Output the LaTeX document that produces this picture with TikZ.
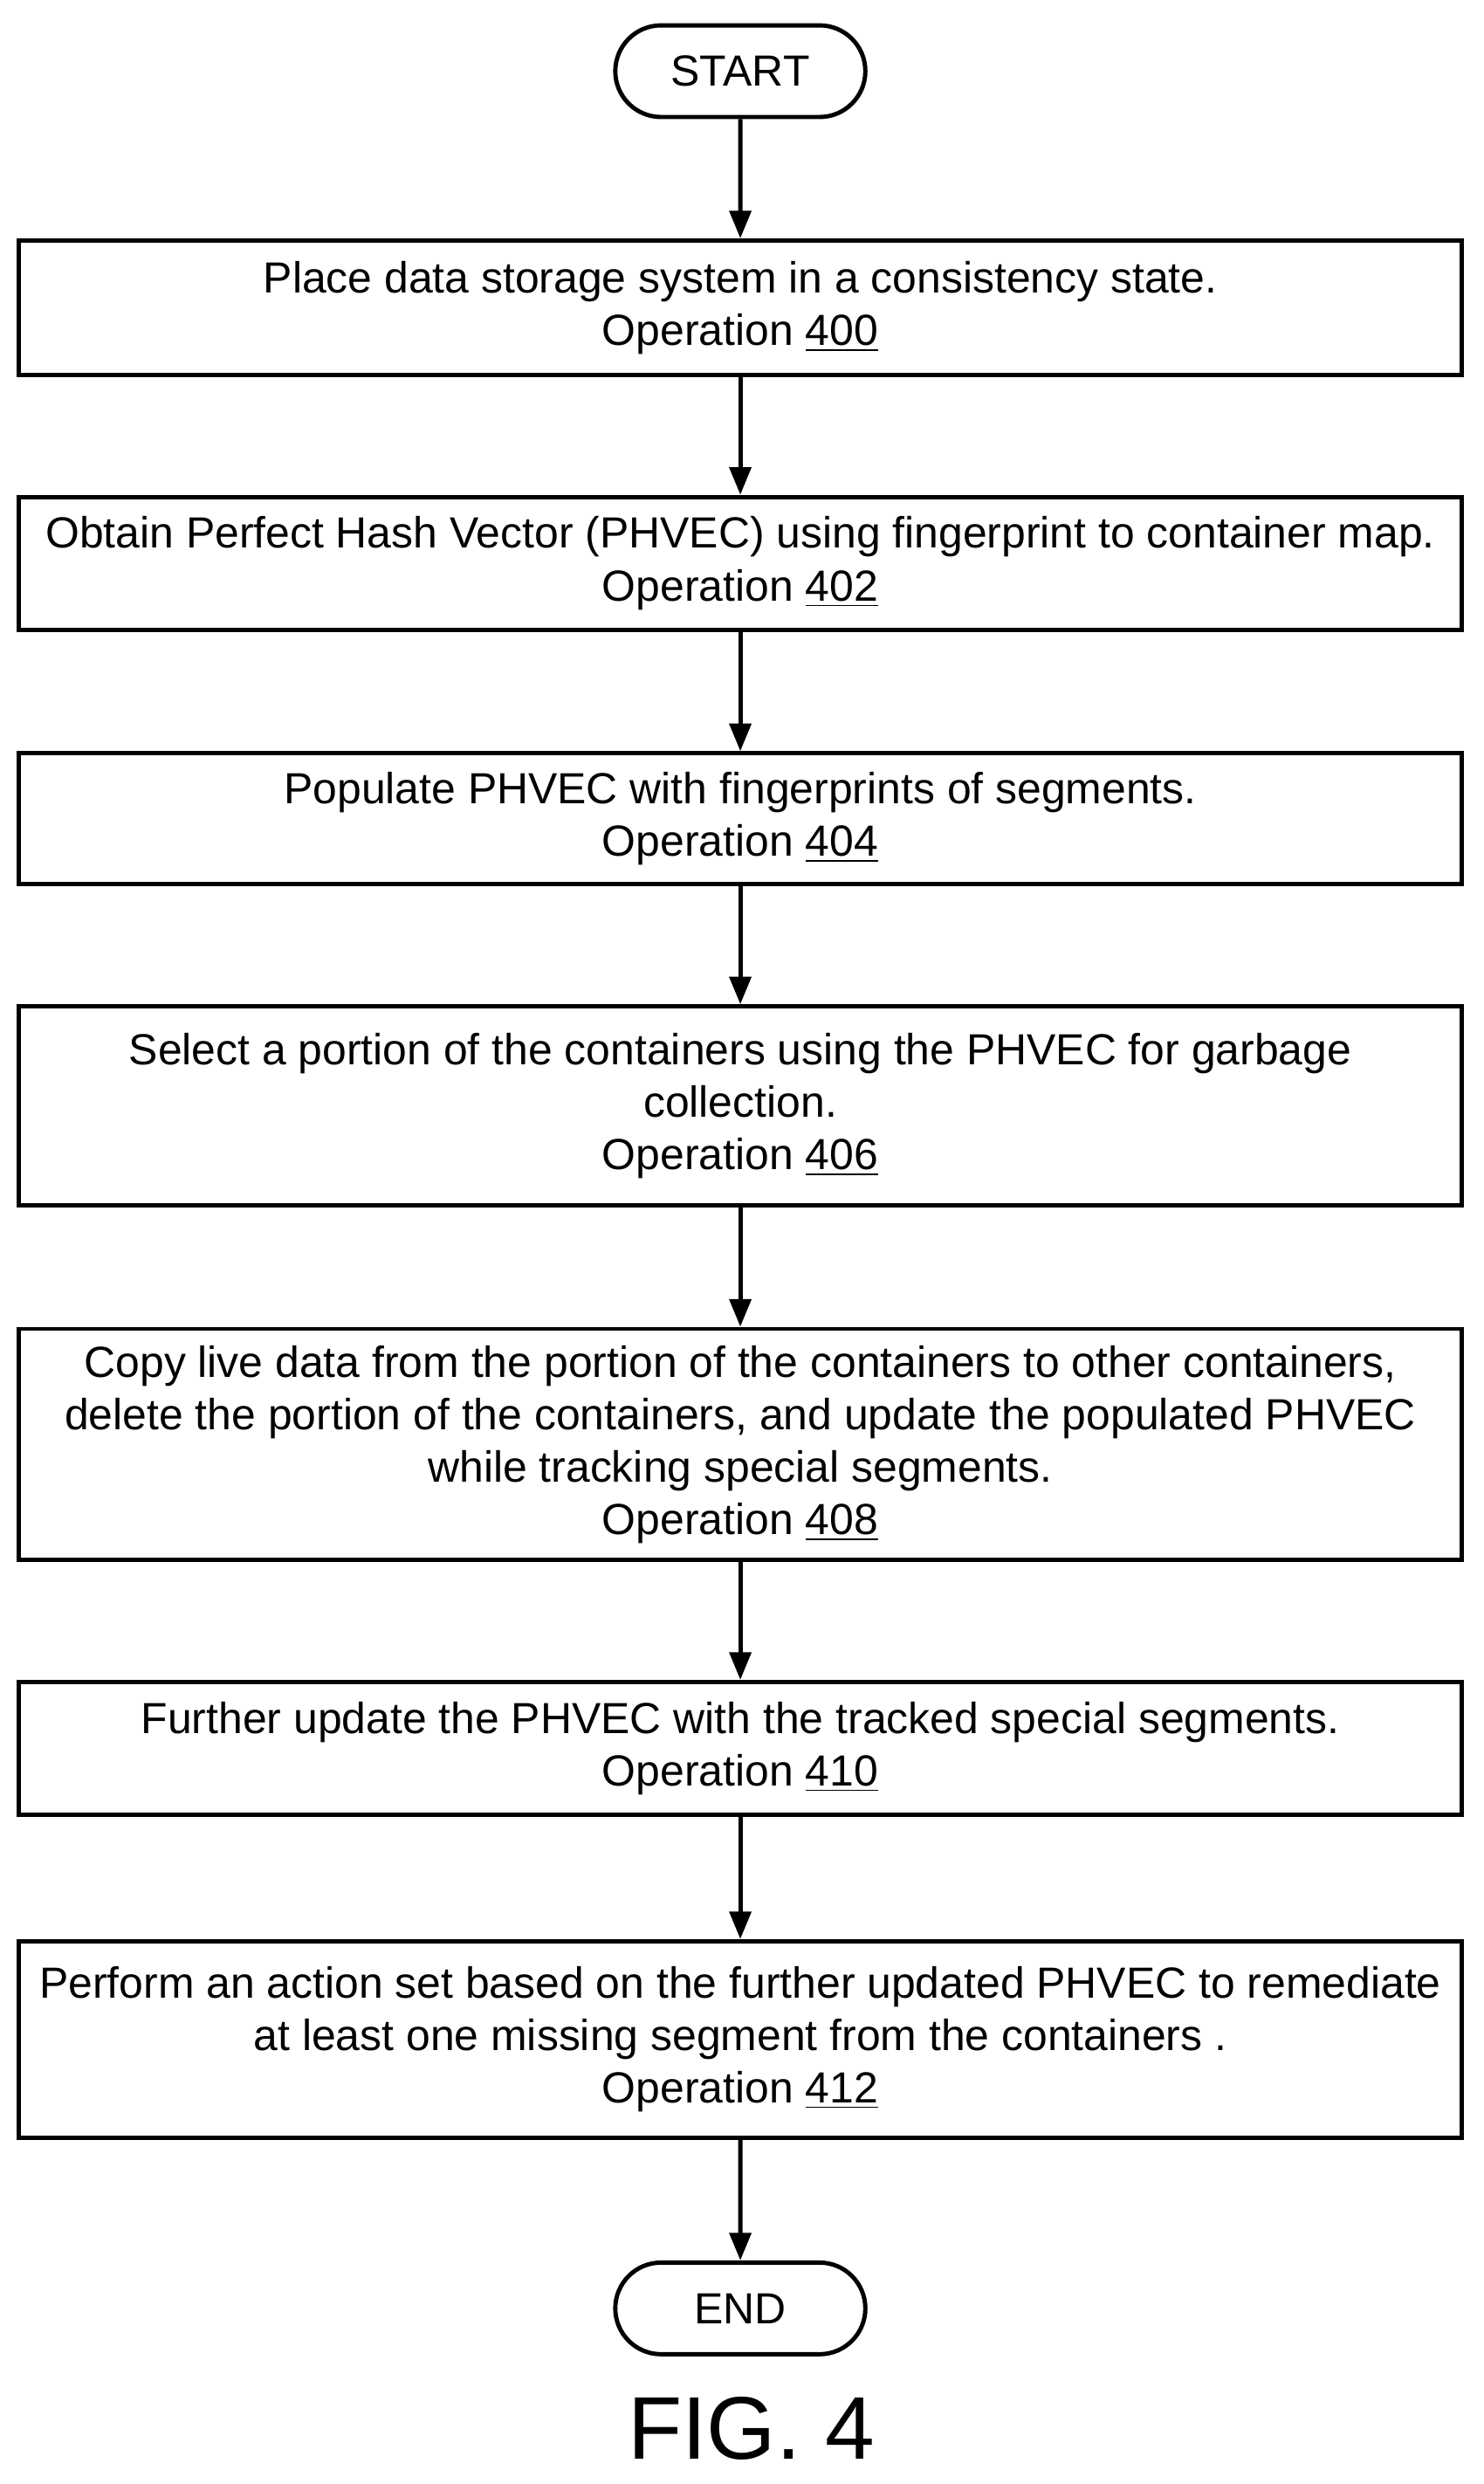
\documentclass[tikz,border=0pt]{standalone}
\usepackage{fontspec}
\setmainfont{Liberation Sans}
\usetikzlibrary{arrows.meta,shapes.misc}

\begin{document}
\begin{tikzpicture}[x=0.01812cm,y=-0.01812cm,
  op/.style={draw, line width=1.4pt, minimum width=16.53cm, inner sep=0pt,
    align=center, font=\fontsize{14.2}{17.1}\selectfont},
  term/.style={draw, line width=1.4pt, rounded rectangle, minimum width=3.1cm,
    minimum height=1.05cm, font=\fontsize{14.2}{17.1}\selectfont},
  flow/.style={-{Triangle[length=9pt,width=7pt]}, line width=1.4pt}]
\useasboundingbox (0,0) rectangle (938,1570);

\node[term] (start) at (468,45) {START};
\node[op, minimum height=1.54cm] (op400) at (468,194.5)
  {Place data storage system in a consistency state.\\ Operation \underline{400}};
\node[op, minimum height=1.52cm] (op402) at (468,356)
  {Obtain Perfect Hash Vector (PHVEC) using fingerprint to container map.\\ Operation \underline{402}};
\node[op, minimum height=1.50cm] (op404) at (468,517.5)
  {Populate PHVEC with fingerprints of segments.\\ Operation \underline{404}};
\node[op, minimum height=2.28cm] (op406) at (468,699)
  {Select a portion of the containers using the PHVEC for garbage\\ collection.\\ Operation \underline{406}};
\node[op, minimum height=2.65cm] (op408) at (468,913)
  {Copy live data from the portion of the containers to other containers,\\ delete the portion of the containers, and update the populated PHVEC\\ while tracking special segments.\\ Operation \underline{408}};
\node[op, minimum height=1.52cm] (op410) at (468,1105)
  {Further update the PHVEC with the tracked special segments.\\ Operation \underline{410}};
\node[op, minimum height=2.25cm] (op412) at (468,1289)
  {Perform an action set based on the further updated PHVEC to remediate\\ at least one missing segment from the containers .\\ Operation \underline{412}};
\node[term] (end) at (468,1459) {END};
\node[font=\fontsize{29}{34}\selectfont] (fig) at (475,1535) {FIG. 4};

\draw[flow] (start) -- (op400);
\draw[flow] (op400) -- (op402);
\draw[flow] (op402) -- (op404);
\draw[flow] (op404) -- (op406);
\draw[flow] (op406) -- (op408);
\draw[flow] (op408) -- (op410);
\draw[flow] (op410) -- (op412);
\draw[flow] (op412) -- (end);
\end{tikzpicture}
\end{document}
